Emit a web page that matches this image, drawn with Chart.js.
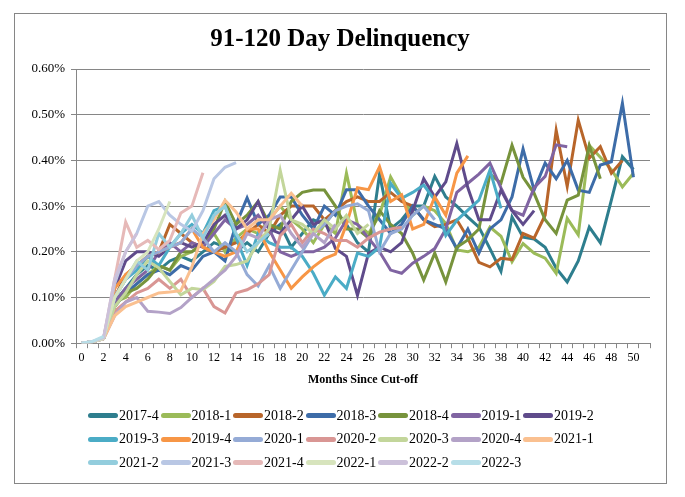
<!DOCTYPE html>
<html>
<head>
<meta charset="utf-8">
<script src="https://cdn.jsdelivr.net/npm/chart.js@4.4.1/dist/chart.umd.min.js"></script>
<style>
body{margin:0;background:#fff}
#wrap{position:relative;width:685px;height:497px;overflow:hidden}
#frame{position:absolute;left:14px;top:13px;width:651px;height:469px;border:1px solid #868686;pointer-events:none}
#box{position:absolute;left:0;top:0;width:685px;height:497px}
#legend{position:absolute;left:88px;top:404px;display:grid;grid-template-columns:repeat(7,72.5px);grid-auto-rows:23.5px;font-family:"Liberation Serif","Times New Roman",serif;font-size:14px;color:#000}
.item{display:flex;align-items:center;white-space:nowrap}
.swatch{width:30px;height:5px;border-radius:3px;margin-right:1px}
</style>
</head>
<body>
<div id="wrap">
<div id="box"><canvas id="chart"></canvas></div>
<div id="legend"></div>
<div id="frame"></div>
</div>
<script>

/* DATA */

const months=["0","1","2","3","4","5","6","7","8","9","10","11","12","13","14","15","16","17","18","19","20","21","22","23","24","25","26","27","28","29","30","31","32","33","34","35","36","37","38","39","40","41","42","43","44","45","46","47","48","49","50","51"]

const cohorts=["2017-4","2018-1","2018-2","2018-3","2018-4","2019-1","2019-2","2019-3","2019-4","2020-1","2020-2","2020-3","2020-4","2021-1","2021-2","2021-3","2021-4","2022-1","2022-2","2022-3"]

const colors=["#2E7E8E","#9BBB59","#B8652A","#3D6CA8","#77933C","#8064A2","#5F4B8B","#4BACC6","#F79646","#95ABD6","#D99694","#C3D69B","#B3A2C7","#FAC090","#93CDDD","#B9C7E4","#E6B9B8","#D7E4BD","#CCC1DA","#B7DEE8"]

// values in percent
const s2017_4=[0,0.003,0.01,0.09,0.12,0.15,0.17,0.16,0.18,0.19,0.18,0.20,0.22,0.21,0.20,0.22,0.20,0.24,0.26,0.21,0.24,0.27,0.26,0.29,0.26,0.22,0.20,0.37,0.25,0.27,0.30,0.30,0.365,0.32,0.30,0.276,0.254,0.207,0.157,0.276,0.232,0.228,0.21,0.164,0.134,0.18,0.254,0.22,0.313,0.408,0.38]
const s2018_1=[0,0.003,0.01,0.09,0.10,0.13,0.15,0.17,0.16,0.19,0.20,0.22,0.24,0.20,0.23,0.25,0.24,0.27,0.30,0.27,0.25,0.22,0.26,0.24,0.372,0.26,0.24,0.28,0.364,0.32,0.28,0.30,0.29,0.262,0.204,0.20,0.21,0.254,0.234,0.178,0.218,0.197,0.186,0.153,0.273,0.237,0.433,0.407,0.38,0.342,0.372]
const s2018_2=[0,0.003,0.01,0.10,0.15,0.17,0.19,0.20,0.26,0.24,0.22,0.21,0.20,0.21,0.22,0.24,0.26,0.24,0.28,0.30,0.30,0.30,0.27,0.29,0.31,0.32,0.31,0.31,0.33,0.31,0.30,0.27,0.255,0.26,0.27,0.23,0.177,0.167,0.186,0.183,0.24,0.23,0.28,0.466,0.343,0.488,0.405,0.43,0.372,0.40]
const s2018_3=[0,0.003,0.01,0.08,0.11,0.13,0.15,0.16,0.15,0.17,0.16,0.19,0.20,0.18,0.26,0.318,0.26,0.28,0.32,0.32,0.28,0.25,0.30,0.28,0.336,0.336,0.30,0.27,0.24,0.26,0.30,0.27,0.26,0.25,0.207,0.25,0.197,0.25,0.27,0.32,0.425,0.335,0.394,0.36,0.40,0.335,0.33,0.39,0.397,0.525,0.363]
const s2018_4=[0,0.003,0.01,0.08,0.11,0.12,0.14,0.17,0.16,0.20,0.20,0.22,0.25,0.31,0.26,0.28,0.31,0.26,0.25,0.31,0.33,0.335,0.335,0.30,0.25,0.25,0.23,0.29,0.26,0.24,0.197,0.138,0.197,0.134,0.21,0.226,0.25,0.37,0.35,0.433,0.363,0.328,0.27,0.24,0.313,0.324,0.433,0.36]
const s2019_1=[0,0.003,0.01,0.09,0.12,0.14,0.16,0.20,0.22,0.20,0.22,0.21,0.24,0.27,0.25,0.26,0.28,0.25,0.20,0.19,0.20,0.20,0.21,0.23,0.27,0.26,0.23,0.20,0.16,0.153,0.175,0.19,0.207,0.25,0.33,0.35,0.37,0.394,0.34,0.29,0.28,0.34,0.365,0.434,0.43]
const s2019_2=[0,0.003,0.01,0.12,0.18,0.20,0.20,0.19,0.21,0.22,0.21,0.22,0.26,0.28,0.25,0.27,0.31,0.25,0.24,0.27,0.30,0.26,0.27,0.207,0.19,0.105,0.197,0.21,0.20,0.22,0.29,0.36,0.32,0.353,0.437,0.34,0.27,0.27,0.335,0.29,0.26,0.29]
const s2019_3=[0,0.003,0.01,0.10,0.14,0.16,0.19,0.17,0.21,0.24,0.26,0.24,0.29,0.30,0.23,0.17,0.24,0.22,0.21,0.21,0.19,0.153,0.105,0.145,0.12,0.197,0.19,0.21,0.35,0.317,0.33,0.346,0.313,0.236,0.269,0.291,0.313,0.379,0.295]
const s2019_4=[0,0.003,0.01,0.12,0.15,0.17,0.19,0.20,0.21,0.22,0.25,0.21,0.20,0.19,0.20,0.25,0.25,0.20,0.16,0.12,0.145,0.167,0.185,0.195,0.26,0.34,0.336,0.386,0.31,0.325,0.25,0.26,0.32,0.28,0.372,0.41]
const s2020_1=[0,0.003,0.01,0.10,0.14,0.17,0.19,0.20,0.21,0.22,0.25,0.23,0.20,0.22,0.20,0.15,0.125,0.17,0.12,0.16,0.20,0.24,0.26,0.29,0.30,0.305,0.29,0.20,0.24,0.25,0.28,0.30,0.27]
const s2020_2=[0,0.003,0.01,0.07,0.09,0.11,0.12,0.14,0.12,0.14,0.10,0.12,0.08,0.066,0.11,0.117,0.13,0.15,0.235,0.26,0.22,0.25,0.24,0.225,0.225,0.21,0.23,0.243,0.25,0.254]
const s2020_3=[0,0.003,0.01,0.08,0.11,0.15,0.18,0.165,0.135,0.106,0.12,0.117,0.135,0.168,0.172,0.18,0.22,0.25,0.378,0.27,0.26,0.24,0.27,0.25,0.28,0.24,0.26]
const s2020_4=[0,0.003,0.01,0.06,0.09,0.10,0.07,0.068,0.065,0.078,0.10,0.12,0.14,0.16,0.19,0.24,0.23,0.27,0.28,0.24,0.21,0.24,0.22,0.26]
const s2021_1=[0,0.003,0.01,0.06,0.08,0.09,0.10,0.11,0.112,0.115,0.167,0.24,0.27,0.313,0.287,0.25,0.27,0.27,0.30,0.328,0.30]
const s2021_2=[0,0.003,0.01,0.10,0.14,0.18,0.16,0.24,0.21,0.24,0.28,0.23,0.28,0.30,0.24,0.20,0.22,0.24]
const s2021_3=[0,0.003,0.012,0.13,0.20,0.24,0.30,0.31,0.28,0.26,0.245,0.29,0.36,0.385,0.395]
const s2021_4=[0,0.003,0.01,0.14,0.265,0.21,0.225,0.205,0.225,0.285,0.30,0.373]
const s2022_1=[0,0.003,0.01,0.10,0.14,0.18,0.20,0.25,0.31]
const s2022_2=[0,0.004,0.012,0.14,0.20,0.24]
const s2022_3=[0,0.004,0.015]

const series=[s2017_4,s2018_1,s2018_2,s2018_3,s2018_4,s2019_1,s2019_2,s2019_3,s2019_4,s2020_1,s2020_2,s2020_3,s2020_4,s2021_1,s2021_2,s2021_3,s2021_4,s2022_1,s2022_2,s2022_3]

const yTicks=[0,0.1,0.2,0.3,0.4,0.5,0.6]


/* CHART */

Chart.defaults.font.family="'Liberation Serif','Times New Roman',serif"
Chart.defaults.color="#000"

const gridColor="#868686"

const datasets=cohorts.map((c,i)=>({
label:c,
data:series[i],
borderColor:colors[i],
backgroundColor:colors[i],
borderWidth:3,
pointRadius:0,
tension:0,
fill:false,
order:cohorts.length-i
}))

new Chart(document.getElementById("chart"),{
type:"line",
data:{labels:months,datasets:datasets},
options:{
responsive:true,
maintainAspectRatio:false,
animation:false,
layout:{padding:{left:30,right:35,top:0,bottom:110}},
plugins:{
legend:{display:false},
tooltip:{enabled:false},
title:{
display:true,
text:"91-120 Day Delinquency",
font:{size:25,weight:"bold"},
color:"#000",
padding:{top:25,bottom:14}
}
},
scales:{
x:{
type:"category",
offset:true,
grid:{display:true,drawOnChartArea:false,drawTicks:true,tickLength:5,offset:true,color:gridColor},
border:{display:true,color:gridColor},
ticks:{
autoSkip:false,maxRotation:0,padding:2,font:{size:12},
callback:(v,i)=>i%2===0?months[i]:""
},
title:{display:true,text:"Months Since Cut-off",font:{size:12,weight:"bold"},padding:{top:6,bottom:0}}
},
y:{
min:0,max:0.6,
afterBuildTicks:s=>{s.ticks=yTicks.map(v=>({value:v}))},
afterFit:s=>{s.width=46},
grid:{color:gridColor,tickLength:5},
border:{display:true,color:gridColor},
ticks:{padding:6,font:{size:13},callback:v=>v.toFixed(2)+"%"}
}
}
}
})


/* LEGEND */

const legend=document.getElementById("legend")
cohorts.forEach((c,i)=>{
const item=document.createElement("div")
item.className="item"
item.innerHTML=`<span class="swatch" style="background:${colors[i]}"></span><span>${c}</span>`
legend.appendChild(item)
})

</script>
</body>
</html>
